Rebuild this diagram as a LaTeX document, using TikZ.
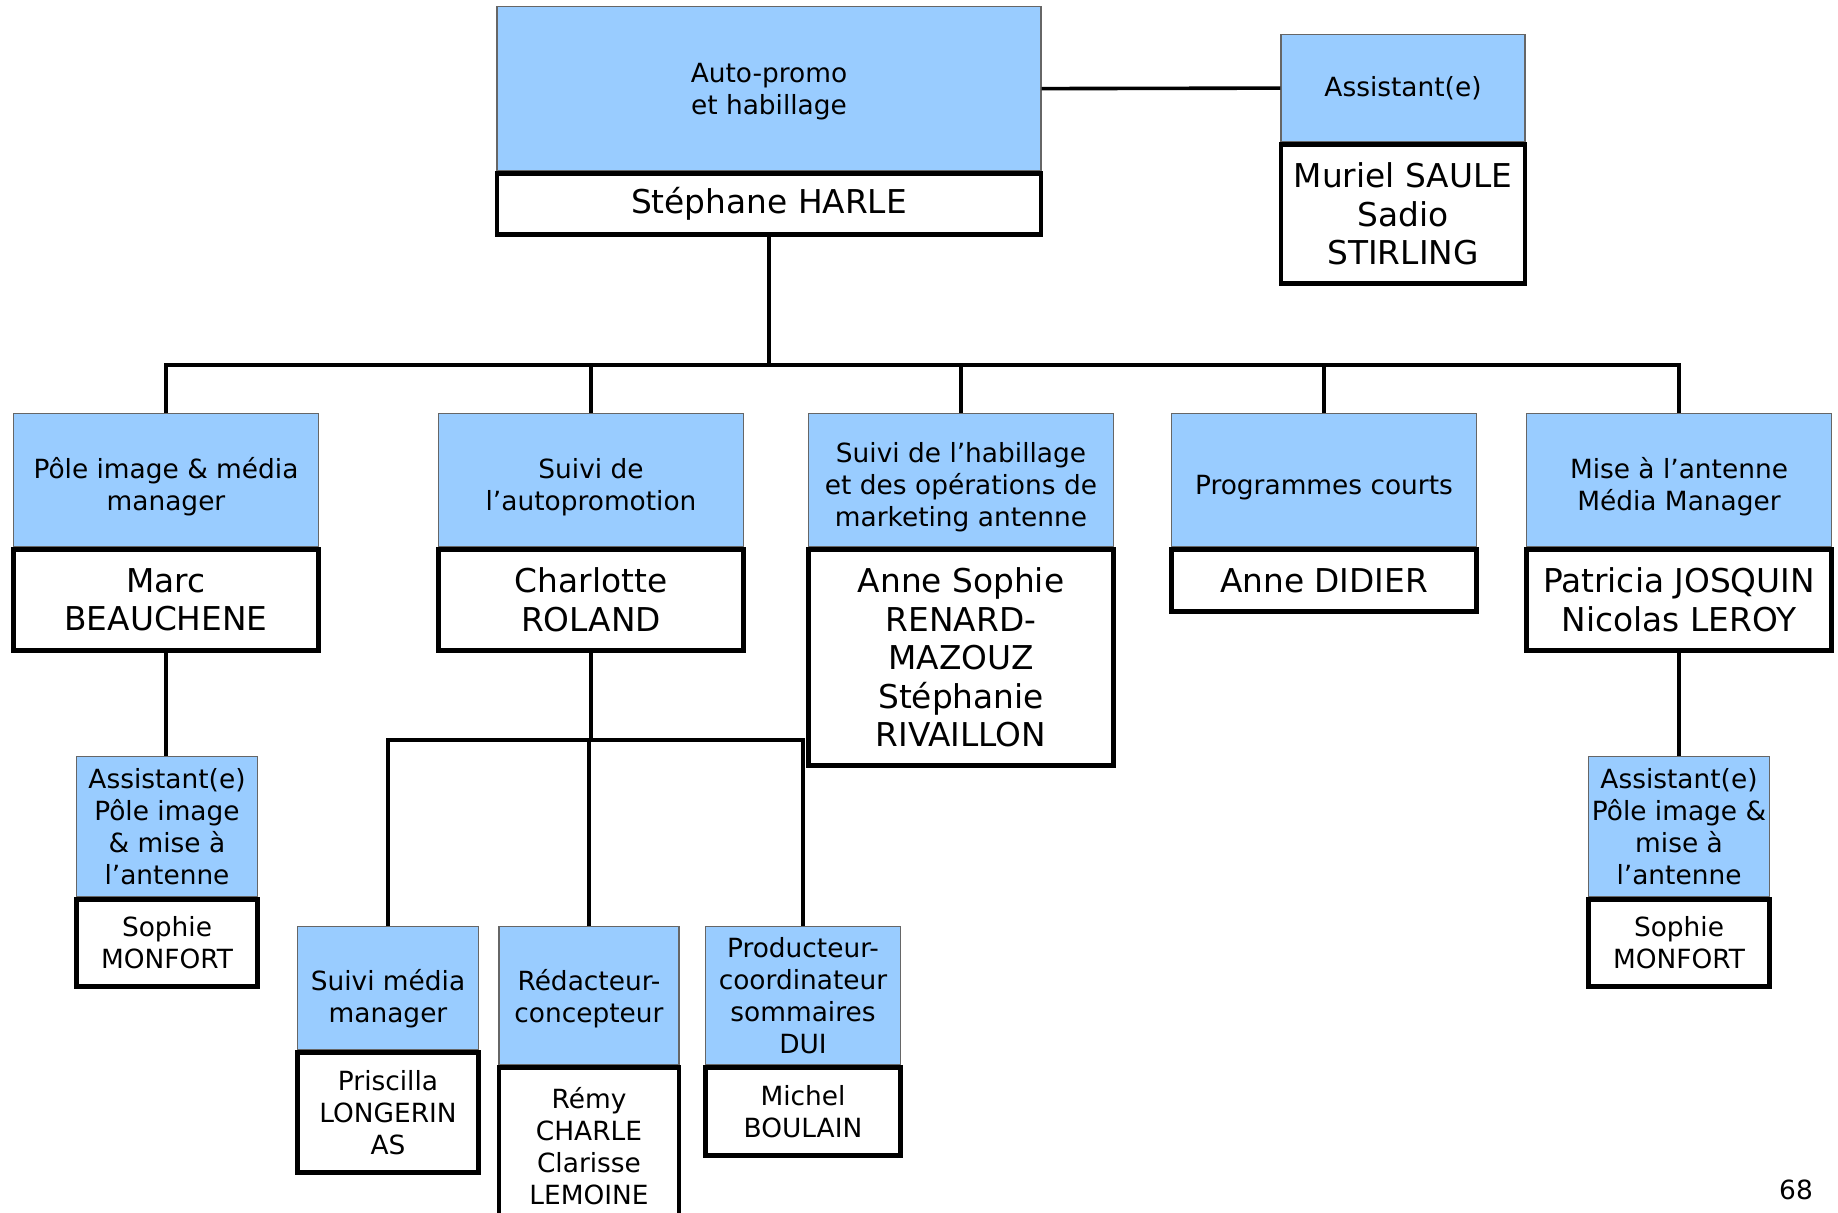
\documentclass[tikz,border=0pt]{standalone}
\usepackage{fontspec}
\setmainfont{DejaVu Sans}
\usepackage{xcolor}
\usetikzlibrary{positioning}
\definecolor{rolebg}{HTML}{99CCFF}
\newcommand{\rolefont}{\fontsize{13.2}{16}\selectfont}
\newcommand{\namefont}{\fontsize{16.4}{19.2}\selectfont}
\tikzset{
  role/.style={draw=black!60, line width=0.6pt, fill=rolebg, align=center, inner xsep=0pt, font=\rolefont},
  person/.style={draw=black, line width=2.2pt, fill=white, align=center, inner xsep=0pt, font=\namefont},
  smallperson/.style={person, font=\rolefont},
  conn/.style={line width=1.8pt},
  wide/.style={minimum width=152.5pt},
  narrow/.style={minimum width=90.5pt},
  lowered/.style={execute at begin node={\rule{0pt}{#1}}}
}

\begin{document}
\begin{tikzpicture}[x=0.5pt, y=0.5pt]
  \useasboundingbox (0,0) rectangle (1838,-1212);

  % Head of the service
  \node[role, lowered=28.5pt, minimum width=272pt, minimum height=82pt, anchor=north] (autopromo) at (769,-6) {Auto-promo\\et habillage};
  \node[person, minimum width=272pt, minimum height=30.5pt, below=0pt of autopromo] (harle) {Stéphane HARLE};

  % Assistant of the head
  \node[role, minimum width=122pt, minimum height=53.5pt, anchor=north] (assistant) at (1403,-34) {Assistant(e)};
  \node[person, minimum width=122pt, minimum height=69.5pt, below=0pt of assistant] (saule) {Muriel SAULE\\Sadio\\STIRLING};

  % Second level
  \node[role, wide, lowered=33pt, minimum height=66.5pt, anchor=north] (pole) at (166,-413) {Pôle image \& média\\manager};
  \node[person, wide, minimum height=50.5pt, below=0pt of pole] (beauchene) {Marc\\BEAUCHENE};

  \node[role, wide, lowered=33pt, minimum height=66.5pt, anchor=north] (suiviauto) at (591,-413) {Suivi de\\l’autopromotion};
  \node[person, wide, minimum height=50.5pt, below=0pt of suiviauto] (roland) {Charlotte\\ROLAND};

  \node[role, wide, lowered=49pt, minimum height=66.5pt, anchor=north] (habillage) at (961,-413) {Suivi de l’habillage\\et des opérations de\\marketing antenne};
  \node[person, wide, minimum height=108pt, below=0pt of habillage] (renard) {Anne Sophie\\RENARD-\\MAZOUZ\\Stéphanie\\RIVAILLON};

  \node[role, wide, lowered=17pt, minimum height=66.5pt, anchor=north] (courts) at (1324,-413) {Programmes courts};
  \node[person, wide, minimum height=31pt, below=0pt of courts] (didier) {Anne DIDIER};

  \node[role, wide, lowered=33pt, minimum height=66.5pt, anchor=north] (antenne) at (1679,-413) {Mise à l’antenne\\Média Manager};
  \node[person, wide, minimum height=50.5pt, below=0pt of antenne] (josquin) {Patricia JOSQUIN\\Nicolas LEROY};

  % Assistants of the poles
  \node[role, narrow, minimum height=70pt, anchor=north] (assistpole) at (167,-756) {Assistant(e)\\Pôle image\\\& mise à\\l’antenne};
  \node[smallperson, narrow, minimum height=43.5pt, below=0pt of assistpole] (monfort) {Sophie\\MONFORT};

  \node[role, narrow, minimum height=70pt, anchor=north] (assistantenne) at (1679,-756) {Assistant(e)\\Pôle image \&\\mise à\\l’antenne};
  \node[smallperson, narrow, minimum height=43.5pt, below=0pt of assistantenne] (monfortb) {Sophie\\MONFORT};

  % Third level, under the autopromotion
  \node[role, narrow, lowered=37.5pt, minimum height=61.5pt, anchor=north] (suivimedia) at (388,-926) {Suivi média\\manager};
  \node[smallperson, narrow, minimum height=60pt, below=0pt of suivimedia] (longerin) {Priscilla\\LONGERIN\\AS};

  \node[role, lowered=30pt, minimum width=90pt, minimum height=69pt, anchor=north] (redacteur) at (589,-926) {Rédacteur-\\concepteur};
  \node[smallperson, minimum width=90pt, minimum height=78.5pt, below=0pt of redacteur] (charle) {Rémy\\CHARLE\\Clarisse\\LEMOINE};

  \node[role, minimum width=97.5pt, minimum height=69pt, anchor=north] (producteur) at (803,-926) {Producteur-\\coordinateur\\sommaires\\DUI};
  \node[smallperson, minimum width=97.5pt, minimum height=44pt, below=0pt of producteur] (boulain) {Michel\\BOULAIN};

  % Connectors
  \coordinate (bus) at (769,-365);
  \coordinate (subbus) at (591,-740);
  \draw[conn] (autopromo.east) -- (assistant.west);
  \draw[conn] (harle.south) -- (bus);
  \foreach \n in {pole,suiviauto,habillage,courts,antenne}
    \draw[conn] (\n.north) |- (bus);
  \draw[conn] (beauchene.south) -- (beauchene.south |- assistpole.north);
  \draw[conn] (josquin.south) -- (assistantenne.north);
  \draw[conn] (roland.south) -- (subbus);
  \foreach \n in {suivimedia,redacteur,producteur}
    \draw[conn] (\n.north) |- (subbus);

  % Page number
  \node[font=\rolefont] (pagenum) at (1796,-1190) {68};
\end{tikzpicture}
\end{document}
